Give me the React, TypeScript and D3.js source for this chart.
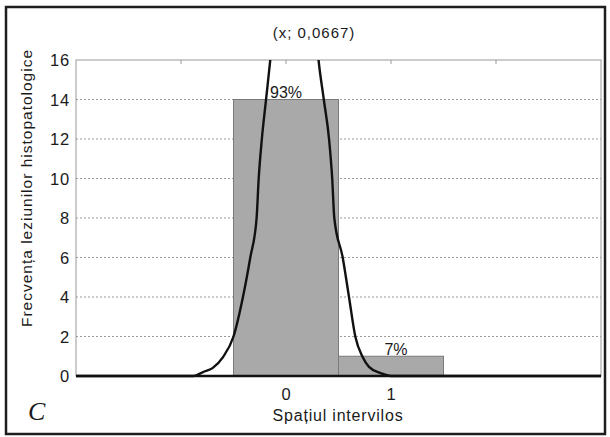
import React from 'react';
import * as d3 from 'd3';

// histogram bars
const barCategories = [0, 1];
const barValues = [14, 1];
const barLabels = ['93%', '7%'];

// y axis ticks
const yTicks = [0, 2, 4, 6, 8, 10, 12, 14, 16];
const xTopTicks = [-1, 0, 1, 2];
const xTickLabels = [0, 1];

// fitted curve (peak is clipped)
const curveX = [-2, -0.88, -0.79, -0.70, -0.60, -0.50, -0.41, -0.34, -0.28, -0.26, -0.23, -0.19, -0.15, -0.10, 0.08, 0.26, 0.31, 0.36, 0.41, 0.44, 0.46, 0.54, 0.60, 0.66, 0.73, 0.79, 0.90, 1.0, 3];
const curveY = [0, 0, 0.2, 0.4, 0.96, 2.0, 4.0, 6.0, 8.0, 10.0, 12.0, 14.0, 16.0, 19, 26, 19, 16.0, 14.0, 12.0, 10.0, 8.0, 6.0, 4.0, 2.0, 0.96, 0.46, 0.15, 0, 0];

const W = 610;
const H = 437;
const plot = { left: 76, right: 601, top: 60, bottom: 376 };

export default function App() {
  const x = d3.scaleLinear().domain([-2, 3]).range([plot.left, plot.right]);
  const y = d3.scaleLinear().domain([0, 16]).range([plot.bottom, plot.top]);
  const pts: [number, number][] = curveX.map((v, i) => [v, curveY[i]]);
  const line = d3.line<[number, number]>()
    .x(d => x(d[0])).y(d => y(d[1]))
    .curve(d3.curveMonotoneX);
  const font = 'Arial, "Liberation Sans", sans-serif';
  const ink = '#1a1a1a';

  return (
    <div style={{ position: 'absolute', left: 0, top: 0 }}>
      <svg width={W} height={H} style={{ display: 'block', background: '#fff' }} fontFamily={font}>
        <defs>
          <clipPath id="plot-clip">
            <rect x={plot.left} y={plot.top} width={plot.right - plot.left} height={plot.bottom - plot.top + 2} />
          </clipPath>
        </defs>
        {/* outer frame */}
        <rect x={6} y={7} width={599} height={427} fill="none" stroke="#1e1e1e" strokeWidth={2.5} />

        {/* grid */}
        {yTicks.filter(t => t > 0 && t < 16).map(t => (
          <line key={t} x1={plot.left} x2={plot.right} y1={y(t)} y2={y(t)}
            stroke="#9a9a9a" strokeWidth={1} strokeDasharray="2,2" />
        ))}

        {/* plot border */}
        <rect x={plot.left} y={plot.top} width={plot.right - plot.left} height={plot.bottom - plot.top}
          fill="none" stroke="#9a9a9a" strokeWidth={1} />
        {xTopTicks.map(t => (
          <line key={t} x1={x(t)} x2={x(t)} y1={plot.top} y2={plot.top + 4} stroke="#9a9a9a" />
        ))}

        {/* bars */}
        {barCategories.map((c, i) => (
          <g key={c}>
            <rect x={x(c - 0.5)} y={y(barValues[i])} width={x(c + 0.5) - x(c - 0.5)}
              height={y(0) - y(barValues[i])} fill="#a9a9a9" stroke="#7a7a7a" strokeWidth={1} />
            <text x={x(c) + (i === 0 ? 0 : 5)} y={y(barValues[i]) - 1.5} textAnchor="middle"
              fontSize={16} fill={ink}>{barLabels[i]}</text>
          </g>
        ))}

        {/* fitted curve */}
        <path d={line(pts) || ''} fill="none" stroke="#111" strokeWidth={2.4} clipPath="url(#plot-clip)" />

        {/* bottom axis line */}
        <line x1={plot.left} x2={plot.right} y1={plot.bottom} y2={plot.bottom} stroke="#111" strokeWidth={2.5} />

        {/* y tick labels */}
        {yTicks.map(t => (
          <text key={t} x={70} y={y(t) + 6} textAnchor="end" fontSize={16.5} letterSpacing={0.8} fill={ink}>{t}</text>
        ))}
        {/* x tick labels */}
        {xTickLabels.map(t => (
          <text key={t} x={x(t)} y={400} textAnchor="middle" fontSize={16.5} fill={ink}>{t}</text>
        ))}

        {/* titles */}
        <text x={314} y={38} textAnchor="middle" fontSize={15} letterSpacing={1} fill={ink}>(x; 0,0667)</text>
        <text x={338} y={421} textAnchor="middle" fontSize={16} letterSpacing={0.8} fill={ink}>Spațiul intervilos</text>
        <text transform={`translate(32,188) rotate(-90)`} textAnchor="middle" fontSize={15.5} letterSpacing={1} fill={ink}>
          Frecvența leziunilor histopatologice
        </text>
        <text x={28} y={420} fontSize={26} fontStyle="italic" fontFamily='"Liberation Serif", "DejaVu Serif", serif' fill={ink}>C</text>
      </svg>
    </div>
  );
}
